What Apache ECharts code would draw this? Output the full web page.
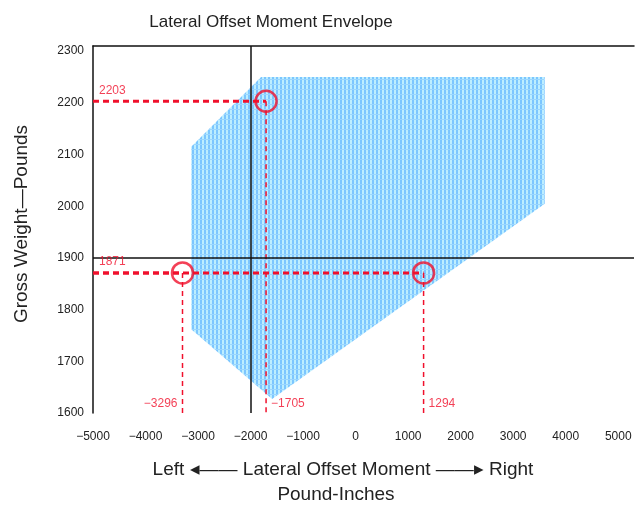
<!DOCTYPE html>
<html>
<head>
<meta charset="utf-8">
<title>Lateral Offset Moment Envelope</title>
<script src="https://cdn.jsdelivr.net/npm/echarts@6/dist/echarts.min.js"></script>
<style>
  html, body { margin: 0; padding: 0; background: #fff; }
  #main { width: 639px; height: 510px; }
</style>
</head>
<body>
<div id="main"></div>
<script>
// envelope outline (moment, weight)
var envelope = [
  [-1800, 2250], [3600, 2250], [3600, 2005], [-1590, 1627],
  [-3130, 1762], [-3130, 2115]
];
// example loading points
var pointMoment = [-1705, -3296, 1294];
var pointWeight = [2203, 1871, 1871];
var weightLabels = [2203, 1871];
var xTicks = [-5000, 5000];
var refMoment = -2000;
var refWeight = 1900;

var red = '#f0102c';
var font = 'Liberation Sans, Arial, sans-serif';

// checker fill like the old scan
var tile = document.createElement('canvas');
tile.width = 4; tile.height = 5;
var tc = tile.getContext('2d');
tc.fillStyle = '#7cc6ff'; tc.fillRect(0, 0, 4, 5);
tc.fillStyle = '#bdeeff'; tc.fillRect(2, 0, 2, 5);
tc.fillStyle = '#9ad6ff'; tc.fillRect(0, 4, 4, 1);

var myChart = echarts.init(document.getElementById('main'));

var series = [];

series.push({
  type: 'custom',
  silent: true,
  z: 1,
  renderItem: function (params, api) {
    if (params.dataIndex > 0) return;
    var pts = envelope.map(function (p) { return api.coord(p); });
    return {
      type: 'polygon',
      shape: { points: pts },
      style: { fill: { image: tile, repeat: 'repeat' } }
    };
  },
  data: [[envelope[0][0], envelope[0][1]]]
});

// black reference lines
series.push({
  type: 'line',
  data: [],
  markLine: {
    silent: true,
    symbol: 'none',
    label: { show: false },
    lineStyle: { color: '#111', type: 'solid', width: 1.5 },
    data: [{ xAxis: refMoment }, { yAxis: refWeight }]
  },
  z: 3
});

// red dashed guides
pointMoment.forEach(function (m, i) {
  var w = pointWeight[i];
  series.push({
    type: 'line', symbol: 'none', silent: true, z: 4,
    data: [[xTicks[0], w], [m, w]],
    lineStyle: { color: red, width: 3, type: [6, 4] }
  });
  series.push({
    type: 'line', symbol: 'none', silent: true, z: 4,
    data: [[m, w], [m, 1600]],
    lineStyle: { color: red, width: 1.5, type: [5, 4] }
  });
});

// circles
series.push({
  type: 'scatter', z: 5, silent: true,
  symbol: 'circle', symbolSize: 21,
  itemStyle: { color: 'rgba(0,0,0,0)', borderColor: red, borderWidth: 2.5 },
  data: pointMoment.map(function (m, i) { return [m, pointWeight[i]]; })
});

// weight labels at left
series.push({
  type: 'scatter', z: 6, silent: true, symbolSize: 0,
  data: weightLabels.map(function (w) { return [xTicks[0], w]; }),
  label: {
    show: true, position: [6, -17], color: red, fontSize: 12, fontFamily: font,
    formatter: function (p) { return String(p.value[1]); }
  }
});

// moment labels at bottom
series.push({
  type: 'scatter', z: 6, silent: true, symbolSize: 0,
  data: pointMoment.map(function (m) { return [m, 1600]; }),
  label: {
    show: true, color: red, fontSize: 12, fontFamily: font,
    position: [0, -15],
    formatter: function (p) { return String(p.value[0]).replace('-', '\u2212'); }
  },
  labelLayout: function (params) {
    var i = params.dataIndex;
    var r = params.labelRect;
    if (pointMoment[i] === -3296) {
      return { x: r.x - r.width - 5 };
    }
    return { x: r.x + 5 };
  }
});

var option = {
  animation: false,
  backgroundColor: '#fff',
  grid: { left: 93, right: 5, top: 46, bottom: 97 },
  xAxis: [{
    type: 'value', min: -5000, max: 5300, interval: 1000,
    axisLine: { show: false }, axisTick: { show: false }, splitLine: { show: false },
    axisLabel: {
      margin: 18, fontSize: 12, color: '#222', fontFamily: font,
      formatter: function (v) { return v > 5000 ? '' : String(v).replace('-', '\u2212'); }
    }
  }, {
    type: 'value', position: 'top', min: -5000, max: 5300,
    axisLine: { show: true, onZero: false, lineStyle: { color: '#111', width: 1.5 } },
    axisTick: { show: false }, axisLabel: { show: false }, splitLine: { show: false }
  }],
  yAxis: {
    type: 'value', min: 1600, max: 2310, interval: 100,
    axisLine: { show: true, onZero: false, lineStyle: { color: '#111', width: 1.5 } },
    axisTick: { show: false }, splitLine: { show: false },
    axisLabel: {
      margin: 9, fontSize: 12, color: '#222', fontFamily: font,
      formatter: function (v) { return String(v); }
    }
  },
  graphic: [
    { type: 'text', x: 271, y: 22, style: { text: 'Lateral Offset Moment Envelope', fill: '#222', fontSize: 17, fontFamily: font, align: 'center', verticalAlign: 'middle' } },
    { type: 'text', x: 22, y: 224, rotation: Math.PI / 2, style: { text: 'Gross Weight\u2014Pounds', fill: '#222', fontSize: 19, fontFamily: font, align: 'center', verticalAlign: 'middle' } },
    { type: 'text', x: 343, y: 470, style: { text: 'Left \u25C2\u2014\u2014 Lateral Offset Moment \u2014\u2014\u25B8 Right', fill: '#222', fontSize: 19, fontFamily: font, align: 'center', verticalAlign: 'middle' } },
    { type: 'text', x: 336, y: 495, style: { text: 'Pound-Inches', fill: '#222', fontSize: 19, fontFamily: font, align: 'center', verticalAlign: 'middle' } }
  ],
  series: series
};

myChart.setOption(option);
</script>
</body>
</html>
